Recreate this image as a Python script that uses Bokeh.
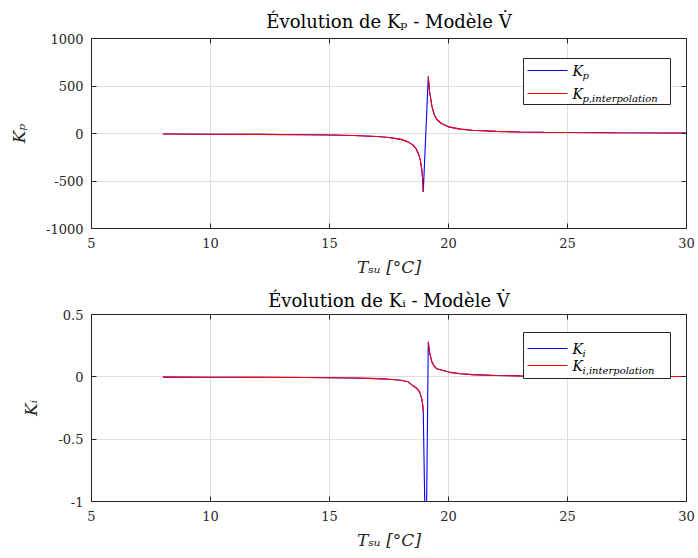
from bokeh.plotting import figure
from bokeh.layouts import column
from bokeh.models import (Range1d, LinearAxis, FixedTicker, BoxAnnotation, Arrow, Label,
                          CustomJSTickFormatter)
from bokeh.embed import file_html
from bokeh.resources import INLINE

# ---- data ----
x_ticks = [5, 10, 15, 20, 25, 30]
kp_ticks = [-1000, -500, 0, 500, 1000]
kp_tick_labels = {-1000: "-1000", -500: "-500", 0: "0", 500: "500", 1000: "1000"}
ki_ticks = [-1, -0.5, 0, 0.5]
ki_tick_labels = {-1: "-1", -0.5: "-0.5", 0: "0", 0.5: "0.5"}

# branch below the singularity
t_left = [8, 10, 12, 14, 15, 16, 17, 17.5, 18, 18.3, 18.5, 18.65, 18.75, 18.82, 18.88, 18.92, 18.94]
kp_left = [-6, -7.5, -9.5, -13, -16, -21, -31, -42, -62, -88, -120, -165, -220, -285, -385, -500, -615]
ki_left = [-0.0025, -0.003, -0.004, -0.0055, -0.007, -0.009, -0.014, -0.019, -0.028, -0.04, -0.07,
           -0.09, -0.11, -0.14, -0.18, -0.23, -0.28]

# branch above the singularity
t_right = [19.15, 19.2, 19.3, 19.4, 19.5, 19.7, 20, 20.5, 21, 22, 23, 24, 25, 27, 30]
kp_right = [600, 450, 290, 200, 150, 105, 70, 46, 34, 22, 16.5, 13, 10.5, 8, 6]
ki_right = [0.28, 0.2, 0.12, 0.085, 0.065, 0.055, 0.038, 0.025, 0.018, 0.011, 0.008, 0.006, 0.005, 0.0035, 0.0025]

# extra model sample inside the singularity (Ki model dips far below -1)
t_mid = [19.05]
ki_mid = [-1.6]

NAN = float("nan")
FONT = "DejaVu Serif"
INK = "#262626"
BLUE = "#0000ff"
RED = "#ff0000"


def make_fig(height, b_top, b_bottom, yr, yticks, ylabels, title, ylabel, standoff):
    p = figure(width=698, height=height,
               x_range=Range1d(5, 30), y_range=Range1d(*yr),
               output_backend="svg", toolbar_location=None,
               min_border_left=91, min_border_right=12,
               min_border_top=b_top, min_border_bottom=b_bottom)
    p.title.text = title
    p.title.align = "center"
    p.title.vertical_align = "top"
    p.title.text_font = FONT
    p.title.text_font_size = "18px"
    p.title.text_font_style = "normal"
    p.title.text_color = "black"
    p.title.standoff = standoff

    for ax in (p.xaxis[0], p.yaxis[0]):
        ax.major_label_text_font = FONT
        ax.major_label_text_font_size = "13px"
        ax.major_label_text_color = INK
        ax.axis_label_text_font = FONT
        ax.axis_label_text_font_size = "17px"
        ax.axis_label_text_font_style = "italic"
        ax.axis_label_text_color = INK
        ax.major_tick_in = 5
        ax.major_tick_out = 0
        ax.minor_tick_line_color = None
        ax.axis_line_color = INK
        ax.major_tick_line_color = INK
    p.xaxis.ticker = FixedTicker(ticks=x_ticks)
    p.yaxis.ticker = FixedTicker(ticks=yticks)
    p.yaxis.major_label_overrides = ylabels
    p.xaxis.axis_label = "Tₛᵤ [°C]"
    p.yaxis.axis_label = ylabel
    p.xaxis.axis_label_standoff = 6
    p.yaxis.axis_label_standoff = 14
    p.xaxis.major_label_standoff = 9
    p.yaxis.major_label_standoff = 8

    blank = CustomJSTickFormatter(code="return ''")
    for loc, tick in (("right", yticks), ("above", x_ticks)):
        ax = LinearAxis(ticker=FixedTicker(ticks=tick), formatter=blank,
                        major_tick_in=5, major_tick_out=0, minor_tick_line_color=None,
                        major_label_standoff=0, axis_line_color=INK,
                        major_tick_line_color=INK)
        p.add_layout(ax, loc)

    p.xgrid.grid_line_color = "#dedede"
    p.ygrid.grid_line_color = "#dedede"
    p.outline_line_color = INK
    p.background_fill_color = "white"
    p.border_fill_color = "white"
    return p


def add_legend(p, sym, bottom, row1, row2):
    # box and entries placed in screen units relative to the plot frame
    p.add_layout(BoxAnnotation(left=432, right=579, bottom=bottom, top=bottom + 46,
                               left_units="screen", right_units="screen",
                               top_units="screen", bottom_units="screen",
                               fill_color="white", fill_alpha=1,
                               line_color=INK, line_width=1, line_alpha=1))
    for y, col, sub in ((row1, BLUE, sym), (row2, RED, sym + ",interpolation")):
        p.add_layout(Arrow(x_start=436, x_end=476, y_start=y, y_end=y,
                           start_units="screen", end_units="screen",
                           start=None, end=None, line_color=col, line_width=1.2))
        p.add_layout(Label(x=481, y=y, x_units="screen", y_units="screen", text="K",
                           text_font=FONT, text_font_size="14px", text_font_style="italic",
                           text_baseline="middle", text_color="black"))
        p.add_layout(Label(x=491, y=y - 5, x_units="screen", y_units="screen", text=sub,
                           text_font=FONT, text_font_size="10px", text_font_style="italic",
                           text_baseline="middle", text_color="black"))


# ---- top: Kp ----
p1 = make_fig(283, 38, 55, (-1000, 1000), kp_ticks, kp_tick_labels,
              "Évolution de Kₚ - Modèle V̇", "Kₚ", 10)
p1.line(t_left + t_right, kp_left + kp_right, line_color=BLUE, line_width=1.1)
p1.line(t_left + [NAN] + t_right, kp_left + [NAN] + kp_right, line_color=RED, line_width=1.1)
add_legend(p1, "p", 124, 158, 135)

# ---- bottom: Ki ----
p2 = make_fig(275, 31, 57, (-1, 0.5), ki_ticks, ki_tick_labels,
              "Évolution de Kᵢ - Modèle V̇", "Kᵢ", 4)
p2.line(t_left + t_mid + t_right, ki_left + ki_mid + ki_right, line_color=BLUE, line_width=1.1)
p2.line(t_left + [NAN] + t_right, ki_left + [NAN] + ki_right, line_color=RED, line_width=1.1)
add_legend(p2, "i", 123, 153, 136)

layout = column(p1, p2, spacing=0)
open("out.html", "w").write(file_html(layout, INLINE))
